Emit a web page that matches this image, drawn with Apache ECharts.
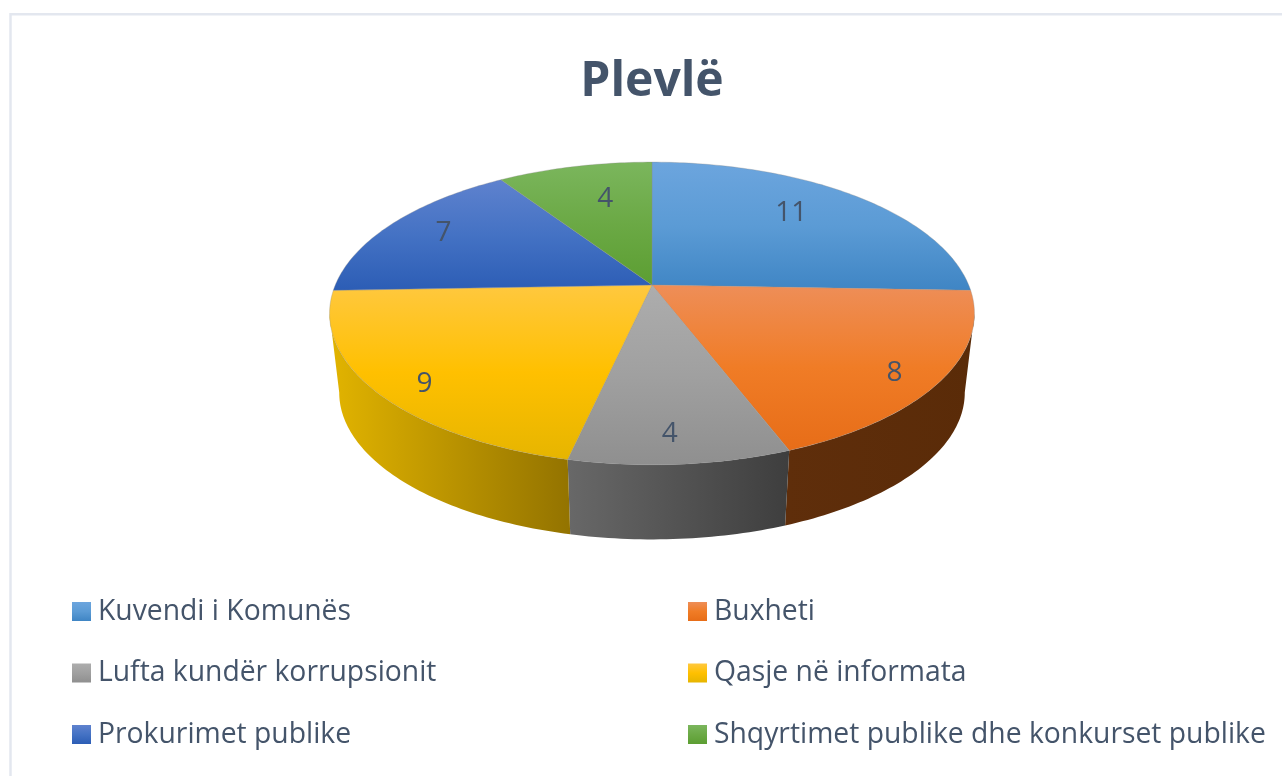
<!DOCTYPE html>
<html><head><meta charset="utf-8">
<style>html,body{margin:0;padding:0;background:#fff}#c{width:1282px;height:776px}</style>
<script src="https://cdn.jsdelivr.net/npm/echarts@6/dist/echarts.min.js"></script>
</head><body><div id="c"></div>
<script>
const chartTitle = 'Plevlë';
const categories = ['Kuvendi i Komunës','Buxheti','Lufta kundër korrupsionit','Qasje në informata','Prokurimet publike','Shqyrtimet publike dhe konkurset publike'];
const values = [11,8,4,9,7,4];
const topColors = [
  ['#6CA5DE','#5B9BD5','#3F85C4'],
  ['#EE8E58','#F07C26','#E76D18'],
  ['#ADADAD','#A0A0A0','#8F8F8F'],
  ['#FFC83F','#FFC000','#E6B500'],
  ['#5F82CE','#4472C4','#2C5DB5'],
  ['#7BB65D','#6BA945','#5C9E32']
];
const wallColors = [
  ['#2E6593','#2E6593'],
  ['#5F2E0B','#5A2B08'],
  ['#686868','#3E3E3E'],
  ['#E2B400','#937300'],
  ['#2B4D8C','#2B4D8C'],
  ['#4A7A2C','#4A7A2C']
];
const labelRadius = [0.74,0.87,0.85,0.87,0.81,0.70];
const labelTurn = [-5,2,1,-3,2,3];
const textColor = '#44546A';

// perspective view of the disc
const cx = 652, cy = 285, R = 316.7, K = 146, P = 0.188, DROP = 80, SHRINK = 0.97;
const SILHOUETTE = Math.acos(-P)*180/Math.PI;
const total = values.reduce((a,b)=>a+b,0);
const startOf = i => values.slice(0,i).reduce((a,b)=>a+b,0)/total*360;
function project(deg, r, lower){
  const t = deg*Math.PI/180, d = -Math.cos(t)*r, s = 1/(1-P*d);
  const f = lower ? SHRINK : 1;
  return [cx + R*Math.sin(t)*r*s*f, cy + (lower?DROP:0) + K*d*s*f];
}
function arc(a,b,lower){
  const pts=[], n=Math.max(2,Math.ceil(Math.abs(b-a)));
  for(let j=0;j<=n;j++) pts.push(project(a+(b-a)*j/n,1,lower));
  return pts;
}
function vertical(c){return new echarts.graphic.LinearGradient(0,0,0,1,[{offset:0,color:c[0]},{offset:.5,color:c[1]},{offset:1,color:c[2]}]);}
function horizontal(c){return new echarts.graphic.LinearGradient(0,0,1,0,[{offset:0,color:c[0]},{offset:1,color:c[1]}]);}

function sliceRenderer(i){
  return function(params, api){
    const a = startOf(i), b = a + api.value(0)/total*360;
    const children = [];
    const wa = Math.max(a,SILHOUETTE), wb = Math.min(b,360-SILHOUETTE);
    if (wb > wa) {
      children.push({type:'polygon', z2:1, shape:{points:arc(wa,wb,false).concat(arc(wb,wa,true))},
        style:{fill:horizontal(wallColors[i]), stroke:null}});
    }
    children.push({type:'polygon', z2:2, shape:{points:[[cx,cy]].concat(arc(a,b,false))},
      style:{fill:vertical(topColors[i]), stroke:'rgba(140,140,140,0.4)', lineWidth:0.8}});
    const lp = project((a+b)/2+labelTurn[i], labelRadius[i], false);
    children.push({type:'text', z2:3, style:{text:String(api.value(0)), x:lp[0], y:lp[1]+2, align:'center', verticalAlign:'middle',
      fill:textColor, font:'28px "Open Sans"'}});
    return {type:'group', children};
  };
}
const legendText = {color:textColor, fontFamily:'Open Sans', fontSize:28.3, lineHeight:32, padding:[0,0,0,2]};
function legendAt(left, names){
  return {show:true, orient:'vertical', left, top:595.5, padding:0, itemGap:29.5, itemWidth:19, itemHeight:19, icon:'rect',
    selectedMode:false, textStyle:legendText, data:names};
}
const chart = echarts.init(document.getElementById('c'), null, {renderer:'canvas'});
chart.setOption({
  animation:false,
  backgroundColor:'#fff',
  color:topColors.map(c=>c[1]),
  title:{text:chartTitle, left:652, top:58, padding:0, textAlign:'center', textStyle:{color:textColor, fontFamily:'Open Sans', fontWeight:'bold', fontSize:48}},
  legend:[legendAt(72,[categories[0],categories[2],categories[4]]), legendAt(688,[categories[1],categories[3],categories[5]])],
  graphic:[{type:'rect', silent:true, z:-1, shape:{x:10.5,y:14.3,width:1400,height:900}, style:{fill:null, stroke:'#E3E7EF', lineWidth:2.5}}],
  series:categories.map((name,i)=>({
    type:'custom', name, coordinateSystem:'none', silent:true,
    itemStyle:{color:vertical(topColors[i])},
    data:[{name, value:[values[i]]}],
    renderItem:sliceRenderer(i)
  }))
});
</script></body></html>
